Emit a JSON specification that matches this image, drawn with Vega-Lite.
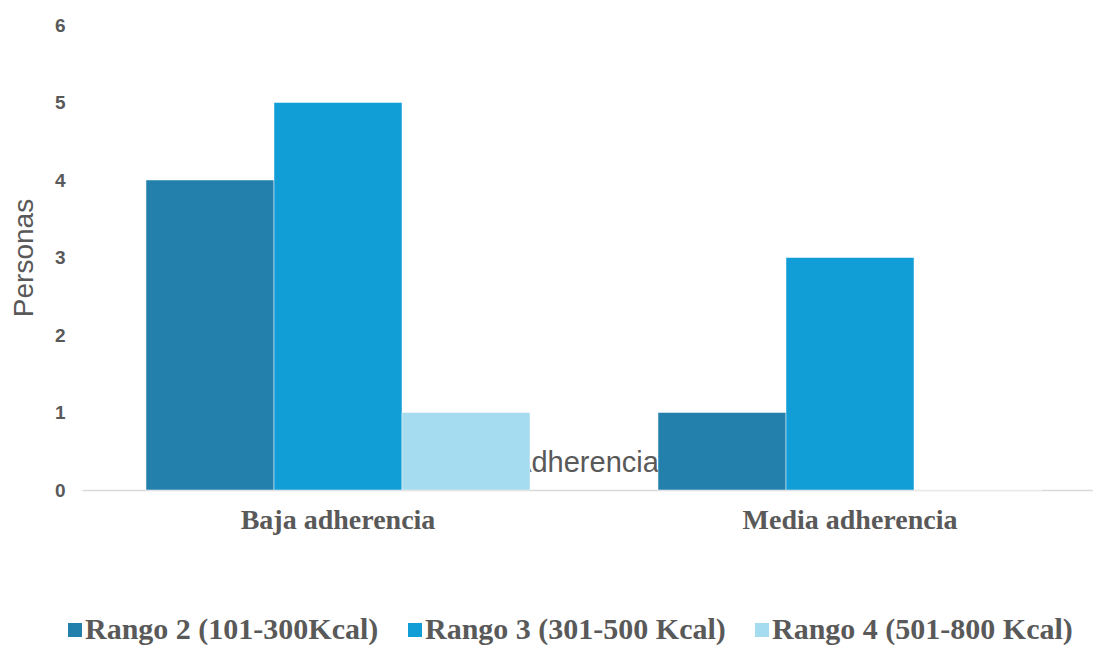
{
  "$schema": "https://vega.github.io/schema/vega-lite/v6.json",
  "width": 1024,
  "height": 465,
  "autosize": {"type": "none"},
  "padding": {"left": 82, "top": 25, "right": -13, "bottom": 155},
  "background": "white",
  "config": {"view": {"stroke": null}},
  "data": {
    "values": [
      {"adherencia": "Baja adherencia", "rango": "Rango 2 (101-300Kcal)", "personas": 4},
      {"adherencia": "Baja adherencia", "rango": "Rango 3 (301-500 Kcal)", "personas": 5},
      {"adherencia": "Baja adherencia", "rango": "Rango 4 (501-800 Kcal)", "personas": 1},
      {"adherencia": "Media adherencia", "rango": "Rango 2 (101-300Kcal)", "personas": 1},
      {"adherencia": "Media adherencia", "rango": "Rango 3 (301-500 Kcal)", "personas": 3},
      {"adherencia": "Media adherencia", "rango": "Rango 4 (501-800 Kcal)", "personas": 0}
    ]
  },
  "mark": {"type": "bar", "stroke": "white", "strokeWidth": 0.8, "strokeOpacity": 0.6},
  "encoding": {
    "x": {
      "field": "adherencia",
      "type": "nominal",
      "scale": {"domain": ["Baja adherencia", "Media adherencia"], "paddingInner": 0, "paddingOuter": 0},
      "axis": {
        "title": "Adherencia",
        "titleFont": "Liberation Sans",
        "titleFontSize": 29,
        "titleFontWeight": "normal",
        "titleColor": "#595959",
        "titleBaseline": "alphabetic",
        "titleY": -19,
        "titleX": 503,
        "labelAngle": 0,
        "labelFont": "Liberation Serif",
        "labelFontSize": 28,
        "labelFontWeight": "bold",
        "labelColor": "#595959",
        "labelPadding": 16,
        "labelLimit": 500,
        "ticks": false,
        "grid": false,
        "domain": true,
        "domainColor": "#d9d9d9",
        "domainWidth": 1.5
      }
    },
    "xOffset": {
      "field": "rango",
      "type": "nominal",
      "scale": {"domain": ["Rango 2 (101-300Kcal)", "Rango 3 (301-500 Kcal)", "Rango 4 (501-800 Kcal)"], "paddingInner": 0, "paddingOuter": 0.5}
    },
    "y": {
      "field": "personas",
      "type": "quantitative",
      "scale": {"domain": [0, 6], "nice": false},
      "axis": {
        "title": "Personas",
        "titleFont": "Liberation Sans",
        "titleFontSize": 28,
        "titleFontWeight": "normal",
        "titleColor": "#595959",
        "titlePadding": 16,
        "values": [0, 1, 2, 3, 4, 5, 6],
        "labelFont": "Liberation Sans",
        "labelFontSize": 19,
        "labelFontWeight": "bold",
        "labelColor": "#595959",
        "labelPadding": 17,
        "ticks": false,
        "domain": false,
        "grid": false
      }
    },
    "color": {
      "field": "rango",
      "type": "nominal",
      "scale": {
        "domain": ["Rango 2 (101-300Kcal)", "Rango 3 (301-500 Kcal)", "Rango 4 (501-800 Kcal)"],
        "range": ["#2380ad", "#119ed6", "#a6dcf0"]
      },
      "legend": {
        "title": null,
        "orient": "none",
        "direction": "horizontal",
        "legendX": -22,
        "legendY": 590,
        "symbolType": "square",
        "symbolSize": 196,
        "symbolStrokeWidth": 0,
        "labelFont": "Liberation Serif",
        "labelFontSize": 30,
        "labelFontWeight": "bold",
        "labelColor": "#595959",
        "labelOffset": -5,
        "columnPadding": 21,
        "labelLimit": 400
      }
    }
  }
}
